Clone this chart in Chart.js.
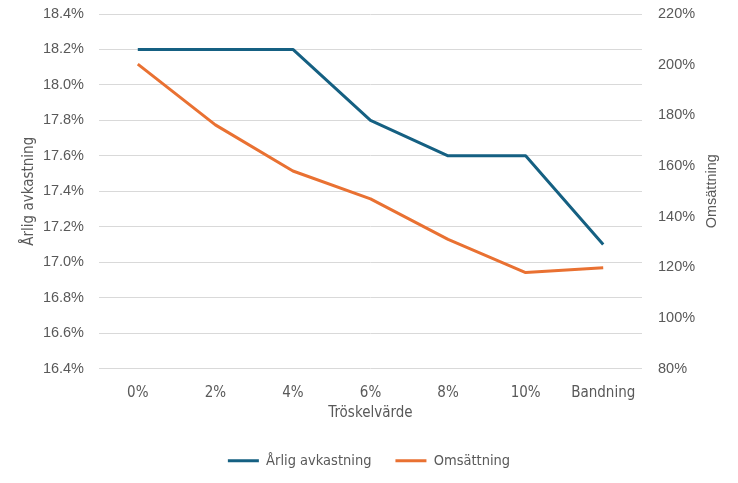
<!DOCTYPE html>
<html>
<head>
<meta charset="utf-8">
<script src="https://cdn.jsdelivr.net/npm/chart.js@4"></script>
<style>
html,body{margin:0;padding:0;background:#fff;}
#wrap{width:738px;height:483px;position:relative;}
</style>
</head>
<body>
<div id="wrap"><canvas id="c" width="738" height="483"></canvas></div>
<script>
const categories = ["0%", "2%", "4%", "6%", "8%", "10%", "Bandning"];
const arligAvkastning = [18.2, 18.2, 18.2, 17.8, 17.6, 17.6, 17.1];
const omsattning = [200.2, 176.2, 158.0, 147.0, 131.0, 117.9, 119.8];
const seriesNames = ["Årlig avkastning", "Omsättning"];
const axisTitles = {x: "Tröskelvärde", left: "Årlig avkastning", right: "Omsättning"};

const blue = "#156082", orange = "#E97132", textCol = "#595959";
const narrow = "'Liberation Sans Narrow', 'DejaVu Sans Condensed', 'Liberation Sans', sans-serif";
const reg = "'Liberation Sans', Arial, sans-serif";

const rightTitle = {
  id: 'rightTitle',
  afterDraw(chart) {
    const ctx = chart.ctx, a = chart.chartArea;
    ctx.save();
    ctx.translate(712, (a.top + a.bottom) / 2);
    ctx.rotate(-Math.PI / 2);
    ctx.fillStyle = textCol;
    ctx.font = "14.5px " + reg;
    ctx.textAlign = 'center';
    ctx.textBaseline = 'middle';
    ctx.fillText(axisTitles.right, 0, 0);
    ctx.restore();
  }
};

new Chart(document.getElementById('c'), {
  type: 'line',
  data: {
    labels: categories,
    datasets: [
      {label: seriesNames[0], data: arligAvkastning, yAxisID: 'y', borderColor: blue, backgroundColor: blue,
       borderWidth: 3, pointRadius: 0, tension: 0, borderJoinStyle: 'round'},
      {label: seriesNames[1], data: omsattning, yAxisID: 'y1', borderColor: orange, backgroundColor: orange,
       borderWidth: 3, pointRadius: 0, tension: 0, borderJoinStyle: 'round'}
    ]
  },
  plugins: [rightTitle],
  options: {
    responsive: false,
    animation: false,
    layout: {padding: {top: 14, left: 0, right: 0, bottom: 5}},
    plugins: {
      legend: {
        position: 'bottom',
        labels: {
          boxWidth: 31, boxHeight: 3, color: textCol, font: {family: narrow, size: 14.5}, padding: 24,
          generateLabels(chart) {
            return chart.data.datasets.map((ds, i) => ({
              text: ds.label, fillStyle: ds.borderColor, strokeStyle: ds.borderColor,
              lineWidth: 0, hidden: false, datasetIndex: i, fontColor: textCol
            }));
          }
        }
      },
      tooltip: {enabled: false}
    },
    scales: {
      x: {
        offset: true,
        afterFit(s) { s.paddingLeft = 0; s.paddingRight = 0; },
        grid: {display: false},
        border: {display: false},
        ticks: {color: textCol, font: {family: narrow, size: 15}, padding: 8},
        title: {display: true, text: axisTitles.x, color: textCol, font: {family: narrow, size: 15}, padding: {top: -6, bottom: 7}}
      },
      y: {
        position: 'left',
        min: 16.4, max: 18.4,
        afterFit(s) { s.width = 99; s.paddingTop = 0; s.paddingBottom = 0; },
        grid: {color: '#d9d9d9', drawTicks: false},
        border: {display: false},
        ticks: {stepSize: 0.2, color: textCol, font: {family: reg, size: 14.5}, padding: 15,
                callback: v => v.toFixed(1) + '%'},
        title: {display: true, text: axisTitles.left, color: textCol, font: {family: narrow, size: 15}, padding: {top: 20, bottom: 0}}
      },
      y1: {
        position: 'right',
        min: 80, max: 220,
        afterFit(s) { s.width = 96; s.paddingTop = 0; s.paddingBottom = 0; },
        grid: {display: false, drawTicks: false},
        border: {display: false},
        ticks: {stepSize: 20, color: textCol, font: {family: reg, size: 14.5}, padding: 16,
                callback: v => Math.round(v) + '%'},
        title: {display: false}
      }
    }
  }
});
</script>
</body>
</html>
